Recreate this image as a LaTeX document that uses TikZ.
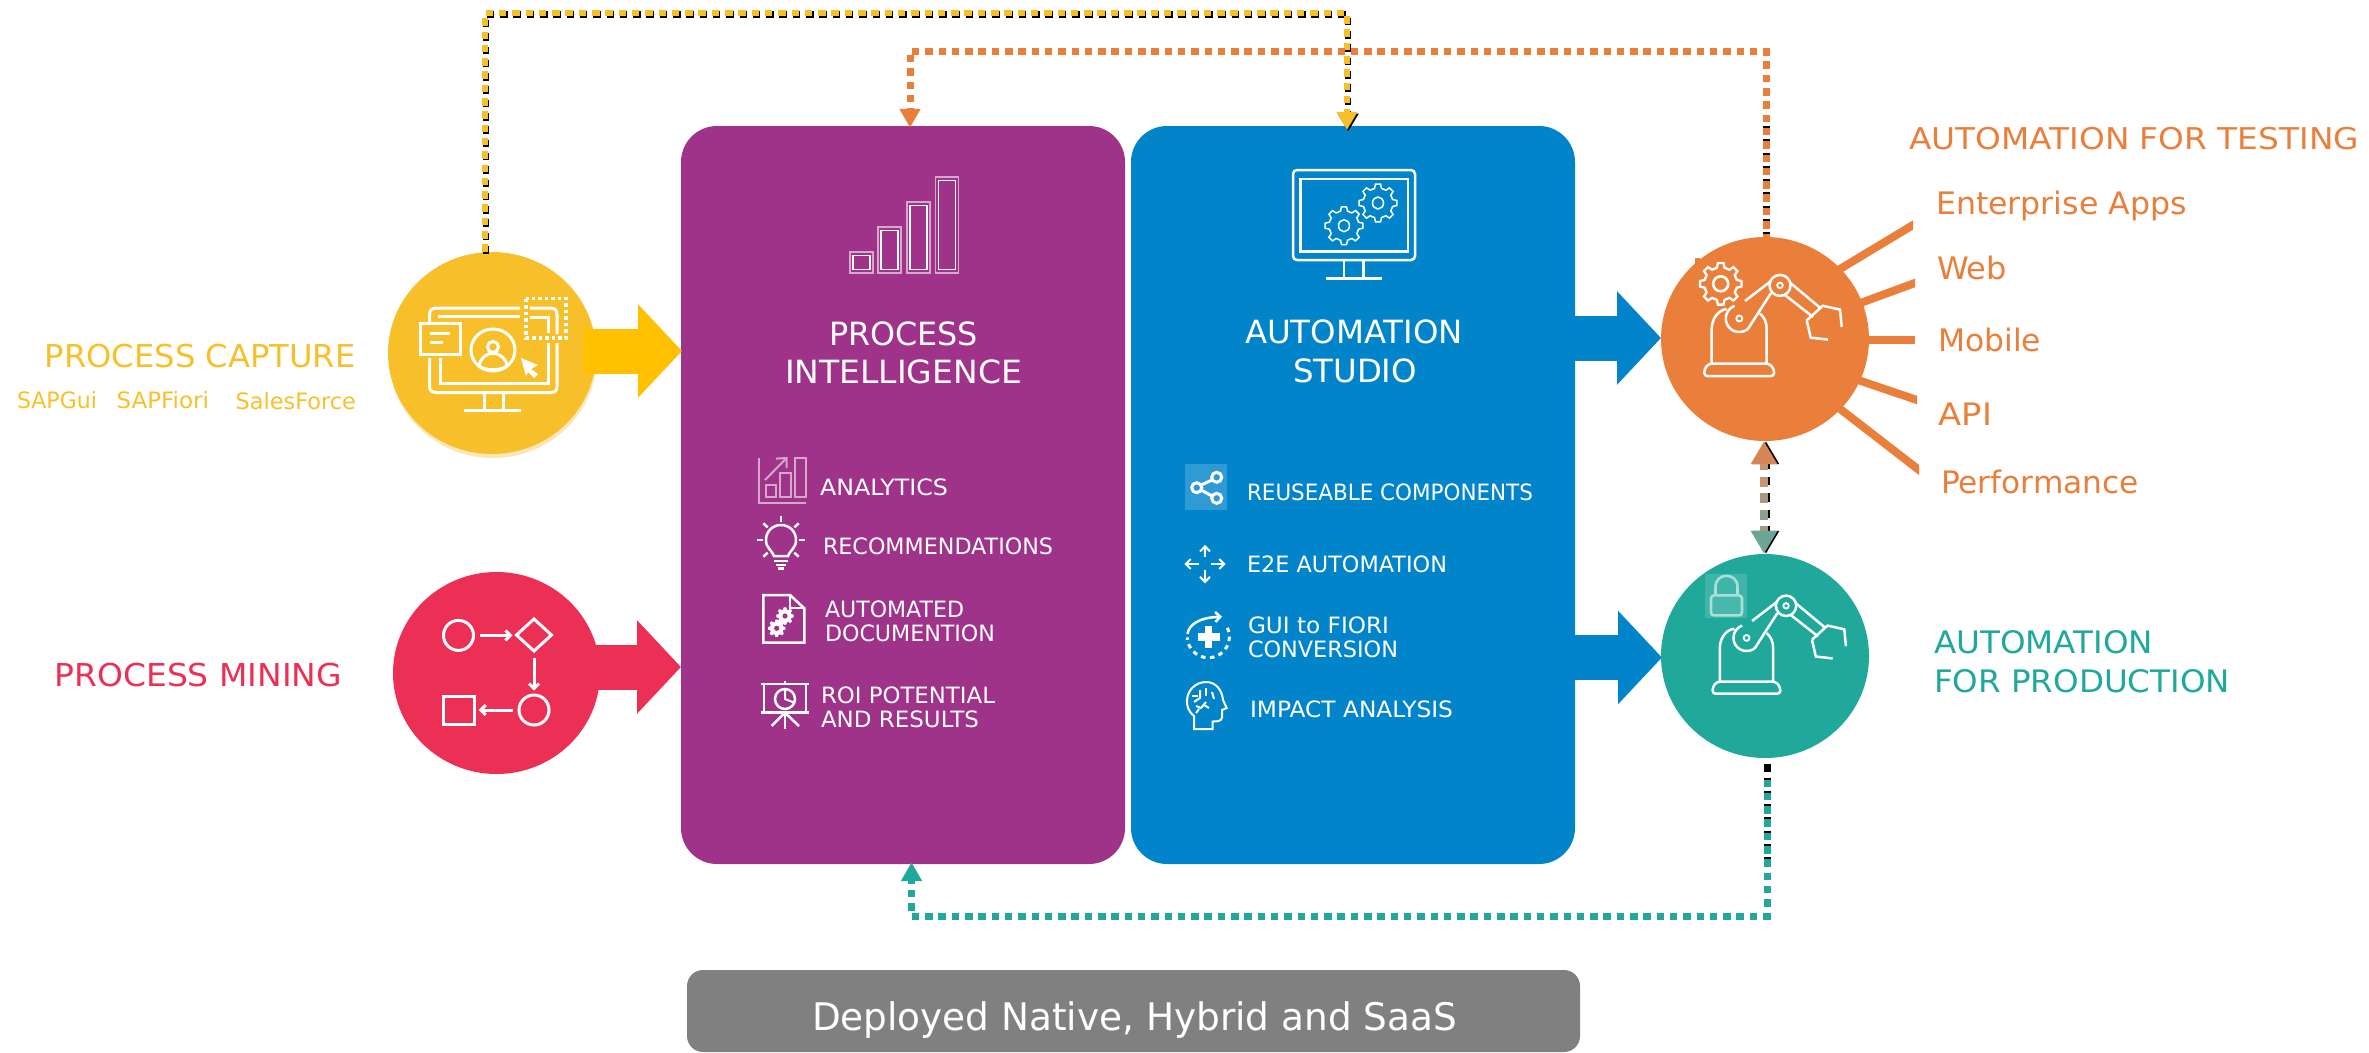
\documentclass[tikz,border=0pt]{standalone}
\usepackage{graphicx}
\usepackage{fontspec}
\setmainfont{DejaVu Sans}
\usetikzlibrary{arrows.meta,shapes.geometric}
\definecolor{cyel}{HTML}{F7C02B}
\definecolor{cyelb}{HTML}{FFC000}
\definecolor{cyels}{HTML}{F9E7B8}
\definecolor{cred}{HTML}{EC2F55}
\definecolor{cora}{HTML}{E97F3A}
\definecolor{cteal}{HTML}{20A99B}
\definecolor{cpur}{HTML}{9F338A}
\definecolor{cblu}{HTML}{0284CB}
\definecolor{cgry}{HTML}{808080}
\definecolor{cpale}{HTML}{D6A6CC}
\definecolor{grT}{HTML}{D88555}
\definecolor{grA}{HTML}{C89570}
\definecolor{grB}{HTML}{A89A80}
\definecolor{grC}{HTML}{8CA08F}
\definecolor{grD}{HTML}{6BA596}
\newcommand\fitx[3]{\resizebox{#1pt}{\height}{\fontsize{#2pt}{#2pt}\selectfont #3}}
% gear: options, cx, cy, outer R, root r, teeth
\newcommand\gearicon[6]{%
  \pgfmathsetmacro\gT{360/#6}%
  \pgfmathtruncatemacro\gN{#6-1}%
  \draw[#1] ({#2+#5*cos(-0.3*\gT)},{#3+#5*sin(-0.3*\gT)})
    \foreach \gi in {0,...,\gN} {
      -- ({#2+#5*cos((\gi-0.3)*\gT)},{#3+#5*sin((\gi-0.3)*\gT)})
      -- ({#2+#4*cos((\gi-0.17)*\gT)},{#3+#4*sin((\gi-0.17)*\gT)})
      -- ({#2+#4*cos((\gi+0.17)*\gT)},{#3+#4*sin((\gi+0.17)*\gT)})
      -- ({#2+#5*cos((\gi+0.3)*\gT)},{#3+#5*sin((\gi+0.3)*\gT)})
    } -- cycle;}
\newcommand\robotarm[3]{%
  \begin{scope}[shift={(#1,#2)},scale=#3,icon]
    \draw[rounded corners=3pt] (-60.7,37) -- (-60.7,30) -- (-56,24.5) -- (4,24.5) -- (9,30) -- (9,37) -- cycle;
    \draw (-53.3,24.5) -- (-53.3,-10) .. controls (-53.3,-20) and (-47,-29) .. (-38.3,-30);
    \draw (1.7,24.5) -- (1.7,-10) .. controls (1.7,-17) and (-1,-22) .. (-5,-25.5);
    \draw plot[domain=250:50,samples=24,smooth] ({-25.7+13.5*cos(\x)},{-20.5+13.5*sin(\x)}) -- (6,-46);
    \draw (-20,-38) -- (6,-58);
    \draw (15,-53.6) circle[radius=10.5];
    \draw[line width=1.8pt] (15,-53.6) circle[radius=2.8];
    \draw[line width=1.8pt] (-25.7,-20.5) circle[radius=3];
    \draw (25,-56.3) -- (55,-31.3);
    \draw (20,-44) -- (48,-22);
    \draw (41.7,-18.6) -- (57.7,-33.2) -- (75,-29.4) -- (76.7,-12);
    \draw (41.7,-18.6) -- (45.7,-1.3) -- (63,0.6);
  \end{scope}}
\tikzset{
  txt/.style={inner sep=0pt,outer sep=0pt,anchor=base west},
  panel/.style={draw=none,rounded corners=36pt,inner sep=0pt,minimum width=444pt,minimum height=738pt},
  disc/.style={ellipse,draw=none,inner sep=0pt,minimum width=208pt,minimum height=204pt},
  icon/.style={draw=white,line width=2.5pt,line cap=butt},
  block/.style={line width=45pt,-{Triangle[length=44pt,width=91pt]}},
  ray/.style={draw=cora,line width=8pt},
  dots/.style={line width=6.5pt,dash pattern=on 7.5pt off 5.8pt},
  tipA/.style={-{Triangle[length=18pt,width=20pt]}},
  tipB/.style={-{Triangle[length=19pt,width=20pt]}},
  small arrow/.style={-{Straight Barb[length=5pt,width=10pt]}},
}
\begin{document}
\begin{tikzpicture}[x=1pt,y=-1pt]
\useasboundingbox (0,0) rectangle (2369,1052);
% ---------- main nodes
\node[panel,fill=cpur] (pi) at (903,495) {};
\node[panel,fill=cblu] (as) at (1353,495) {};
\node[draw=none,fill=cgry,rounded corners=16pt,inner sep=0pt,minimum width=893pt,minimum height=82pt] (dep) at (1133.5,1011) {};
% coordinates used by routes
\coordinate (lane1) at (800,13);
\coordinate (lane2) at (1300,51);
\coordinate (lane3) at (1300,916);
\coordinate (r1a) at (1835,272); \coordinate (r1b) at (1913,225);
\coordinate (r2a) at (1855,305); \coordinate (r2b) at (1915,283);
\coordinate (r3a) at (1860,340); \coordinate (r3b) at (1915,340);
\coordinate (r4a) at (1855,379); \coordinate (r4b) at (1917,400);
\coordinate (r5a) at (1835,405); \coordinate (r5b) at (1919,470);
\begin{scope}
\clip (1800,200) rectangle (1913,290);
\draw[ray] (r1a) -- ([shift={(10,-6)}]r1b);
\end{scope}
\begin{scope}
\clip (1800,265) rectangle (1915,320);
\draw[ray] (r2a) -- ([shift={(10,-3.7)}]r2b);
\end{scope}
\draw[ray] (r3a) -- (r3b);
\begin{scope}
\clip (1800,365) rectangle (1917,420);
\draw[ray] (r4a) -- ([shift={(10,3.4)}]r4b);
\end{scope}
\begin{scope}
\clip (1800,395) rectangle (1919,490);
\draw[ray] (r5a) -- ([shift={(10,7.7)}]r5b);
\end{scope}
% block arrows (under the discs where they enter them)
\coordinate (bA1) at (1570,338); \coordinate (bA2) at (1661,338);
\coordinate (bB1) at (1570,657.5); \coordinate (bB2) at (1662,657.5);
\draw[block,draw=cblu] (bA1) -- (bA2);
\draw[block,draw=cblu] (bB1) -- (bB2);
% discs
\fill[cyels] (493,356.5) ellipse[x radius=104,y radius=101.5];
\node[disc,fill=cyel,minimum height=202pt] (yc) at (492,353) {};
\node[disc,fill=cred,minimum width=207pt,minimum height=202pt] (rc) at (496.5,673) {};
\node[disc,fill=cora] (oc) at (1765,339) {};
\node[disc,fill=cteal] (tc) at (1765,656) {};
\fill[cora] (1695,258) rectangle (1700,264);
\coordinate (yb1) at (583,351); \coordinate (yb2) at (682,351);
\coordinate (rb1) at (590,667); \coordinate (rb2) at (681,667);
\draw[block,draw=cyelb] (yb1) -- (yb2);
\draw[block,draw=cred] (rb1) -- (rb2);
% ---------- dotted connectors
\begin{scope}[transform canvas={shift={(1.2pt,-1.7pt)}}]
\draw[dots,draw=black,tipA] ([xshift=-7pt]yc.north) |- (lane1) -| ([xshift=-6pt,yshift=-4pt]as.north);
\end{scope}
\draw[dots,draw=cyel,tipA] ([xshift=-7pt]yc.north) |- (lane1) -| ([xshift=-6pt,yshift=-4pt]as.north);
\coordinate (oBlackEnd) at (1766,123);
\draw[dots,draw=black,line width=7pt] ([xshift=1pt,yshift=-3pt]oc.north) -- (oBlackEnd);
\draw[dots,draw=cora,line width=7pt,tipB] ([xshift=1pt,yshift=-5pt]oc.north) |- (lane2) -| ([xshift=7pt,yshift=-2pt]pi.north);
\coordinate (tBlackEnd) at (1767,862);
\draw[dots,draw=black,line width=7pt] ([xshift=2pt,yshift=-6pt]tc.south) -- (tBlackEnd);
\draw[dots,draw=cteal,line width=7pt,tipB] ([xshift=2pt,yshift=-21.3pt]tc.south) |- (lane3) -| ([xshift=8.5pt,yshift=2pt]pi.south);
% two-way link
\begin{scope}[transform canvas={shift={(2pt,0pt)}}]
\draw[draw=black,line width=8.5pt,dash pattern=on 8.5pt off 8pt,dash phase=2.5pt,{Triangle[length=23pt,width=25pt]}-{Triangle[length=23pt,width=25pt]}] ([xshift=-1pt]oc.south) -- ([xshift=-1pt]tc.north);
\end{scope}
\draw[draw=grB,line width=8.5pt,dash pattern=on 8.5pt off 8pt,dash phase=2.5pt,
  {Triangle[length=23pt,width=25pt,color=grT]}-{Triangle[length=23pt,width=25pt,color=grD]}] ([xshift=-1pt]oc.south) -- ([xshift=-1pt]tc.north);
\fill[grA] (1759.75,464) rectangle (1768.25,470);
\fill[grA] (1759.75,478) rectangle (1768.25,486.5);
\fill[grB] (1759.75,494.5) rectangle (1768.25,503);
\fill[grC] (1759.75,511) rectangle (1768.25,519.5);
% ---------- labels, left
\node[txt,text=cyel] (tCap) at (44.6,367) {\fitx{311}{31.5}{PROCESS CAPTURE}};
\node[txt,text=cyel] (tSg) at (17,408) {\fitx{80}{22.6}{SAPGui}};
\node[txt,text=cyel] (tSf) at (116.5,408) {\fitx{92.5}{22.6}{SAPFiori}};
\node[txt,text=cyel] (tSa) at (235.7,409) {\fitx{120.3}{22.6}{SalesForce}};
\node[txt,text=cred] (tMin) at (54.5,686) {\fitx{287.5}{31.5}{PROCESS MINING}};
% ---------- panel titles
\node[txt,text=white] (t1) at (829,345) {\fitx{149}{32}{PROCESS}};
\node[txt,text=white] (t2) at (785,383) {\fitx{237}{32}{INTELLIGENCE}};
\node[txt,text=white] (t3) at (1245,343) {\fitx{218}{32}{AUTOMATION}};
\node[txt,text=white] (t4) at (1293,382) {\fitx{124}{32}{STUDIO}};
% ---------- panel items
\node[txt,text=white] (i1) at (820,495) {\fitx{128}{22.5}{ANALYTICS}};
\node[txt,text=white] (i2) at (823,554) {\fitx{230}{22.5}{RECOMMENDATIONS}};
\node[txt,text=white] (i3) at (825,617) {\fitx{139}{22.5}{AUTOMATED}};
\node[txt,text=white] (i4) at (825,641) {\fitx{170}{22.5}{DOCUMENTION}};
\node[txt,text=white] (i5) at (821,703) {\fitx{174}{22.5}{ROI POTENTIAL}};
\node[txt,text=white] (i6) at (821,727) {\fitx{158}{22.5}{AND RESULTS}};
\node[txt,text=white] (j1) at (1247,500) {\fitx{286}{22.5}{REUSEABLE COMPONENTS}};
\node[txt,text=white] (j2) at (1247,572) {\fitx{200}{22.5}{E2E AUTOMATION}};
\node[txt,text=white] (j3) at (1248,633) {\fitx{141}{22.5}{GUI to FIORI}};
\node[txt,text=white] (j4) at (1248,657) {\fitx{150}{22.5}{CONVERSION}};
\node[txt,text=white] (j5) at (1250,717) {\fitx{203}{22.5}{IMPACT ANALYSIS}};
% ---------- labels, right
\node[txt,text=cora] (r0) at (1909,149) {\fitx{450}{30}{AUTOMATION FOR TESTING}};
\node[txt,text=cora] (r1) at (1936,214) {\fitx{251}{31}{Enterprise Apps}};
\node[txt,text=cora] (r2) at (1937,279) {\fitx{70}{31}{Web}};
\node[txt,text=cora] (r3) at (1938,351) {\fitx{103}{31}{Mobile}};
\node[txt,text=cora] (r4) at (1938.5,425) {\fitx{53.5}{31}{API}};
\node[txt,text=cora] (r5) at (1941,493) {\fitx{198}{31}{Performance}};
\node[txt,text=cteal] (p1) at (1934,653) {\fitx{219}{31}{AUTOMATION}};
\node[txt,text=cteal] (p2) at (1934,692) {\fitx{296}{31}{FOR PRODUCTION}};
\node[txt,text=white] (dtx) at (812,1030) {\fitx{645}{38}{Deployed Native, Hybrid and SaaS}};
% ---------- icon: capture monitor
\begin{scope}[icon,line width=3pt]
\draw (520,308) -- (437,308) .. controls (432,308) and (429.5,310) .. (429.5,315) -- (429.5,323);
\draw (438,316) -- (520,316);
\draw (429.5,358) -- (429.5,386) .. controls (429.5,391) and (432,392.5) .. (437,392.5) -- (550,392.5) .. controls (555,392.5) and (557,391) .. (557,386) -- (557,343);
\draw (440,358) -- (440,383) -- (548,383) -- (548,343);
\draw (530,308) -- (550,308) .. controls (555,308) and (557,310) .. (557,315) -- (557,334);
\draw (530,317) -- (548,317) -- (548,333);
\draw[line width=3.5pt,dash pattern=on 3.5pt off 3pt] (526,298.6) rectangle (566,338);
\draw (420.5,323.6) rectangle (460,354);
\draw (430,333.5) -- (449.5,333.5);
\draw (430,342.5) -- (443,342.5);
\draw (493,350) ellipse[x radius=22,y radius=21];
\draw (493,347) circle[radius=5.5];
\draw (479,366) .. controls (481,357) and (486,355) .. (490,353.5) -- (496,353.5) .. controls (500,355) and (506,358) .. (507,366);
\draw (479,366) .. controls (486,371) and (500,371) .. (507,366);
\draw (484,392.5) -- (484,410);
\draw (503,392.5) -- (503,410);
\draw (464,410) -- (521,410);
\end{scope}
\fill[white] (521,358) -- (538,365) -- (531,369) -- (538,374) -- (534,378) -- (528,372) -- (526,376) -- cycle;
% ---------- icon: process flow
\begin{scope}[icon,line width=3pt]
\draw (458.5,635.4) ellipse[x radius=15,y radius=15];
\draw[small arrow] (480,635.4) -- (512.5,635.4);
\draw (534,619) -- (551.5,635) -- (534,651) -- (516.5,635) -- cycle;
\draw[small arrow] (534,657.5) -- (534,690.7);
\draw (534,710) ellipse[x radius=15,y radius=15];
\draw[small arrow] (512.5,710) -- (478.6,710);
\draw (443,696) rectangle (474,724.6);
\end{scope}
% ---------- icon: bars
\foreach \bx/\bt in {850/252,878/227,907/202,935.5/177} {
  \draw[draw=cpale,line width=1.6pt] (\bx,\bt) rectangle (\bx+23,272.7);
  \draw[draw=white,line width=1.4pt] (\bx+3,\bt+3.5) rectangle (\bx+20,269.5);
}
% ---------- icon: studio monitor
\begin{scope}[icon]
\draw[rounded corners=4pt] (1293,170) rectangle (1415,260);
\draw (1300.5,179) rectangle (1408,251.7);
\draw (1344,260) -- (1344,278.5);
\draw (1363.5,260) -- (1363.5,278.5);
\draw (1326,278.5) -- (1382,278.5);
\end{scope}
\gearicon{draw=white,line width=1.5pt}{1344}{225.7}{19}{15}{8}
\draw[white,line width=1.5pt] (1344,225.7) ellipse[x radius=5.5,y radius=6];
\gearicon{draw=white,line width=1.5pt}{1378}{203}{19}{15}{8}
\draw[white,line width=1.5pt] (1378,203) ellipse[x radius=5.5,y radius=6];
% ---------- icon: analytics
\begin{scope}[line width=2pt]
\draw[cpale] (759.3,458) -- (759.3,502.7) -- (806,502.7);
\draw[cpale] (765.7,485) rectangle (776,496.7);
\draw[cpale] (780,472.7) rectangle (790.7,496.7);
\draw[cpale] (795,458.3) rectangle (806,496.7);
\draw[cpale] (765,480) -- (786,458.6);
\draw[cpale] (776,458.6) -- (786.7,458) -- (786.7,468);
\end{scope}
% ---------- icon: bulb
\begin{scope}[icon]
\draw (774,556) .. controls (771,549) and (766,548) .. (766,540) .. controls (766,531) and (773,525) .. (781,525) .. controls (789,525) and (796,531) .. (796,540) .. controls (796,548) and (791,549) .. (788,556) -- cycle;
\draw (781,515.7) -- (781,521.7);
\draw (756.7,540) -- (762.7,540);
\draw (799.3,540) -- (805.3,540);
\draw (763.3,523.3) -- (767.7,527.3);
\draw (798.7,523.3) -- (794.3,527.3);
\draw (763.3,556.7) -- (767.7,552.7);
\draw (798.7,556.7) -- (794.3,552.7);
\draw (774,561) -- (788,561);
\draw (776,565) -- (786,565);
\draw (778,568.5) -- (784,568.5);
\end{scope}
% ---------- icon: document
\begin{scope}[icon]
\draw (763.3,595) -- (790,595) -- (804.3,608.3) -- (804.3,642.7) -- (763.3,642.7) -- cycle;
\draw[line width=1.8pt] (790,595) -- (790,608.3) -- (804.3,608.3);
\end{scope}
\gearicon{fill=white,draw=white,line width=.5pt}{785}{616}{8.5}{6.5}{8}
\fill[cpur] (785,616) circle[radius=2.6];
\gearicon{fill=white,draw=white,line width=.5pt}{776.7}{628.3}{8.5}{6.5}{8}
\fill[cpur] (776.7,628.3) circle[radius=2.6];
% ---------- icon: presentation
\begin{scope}[icon]
\draw (785,680.7) -- (785,684);
\draw (761,684) -- (809.3,684);
\draw (764,684) -- (764,712.7);
\draw (806,684) -- (806,712.7);
\draw (761,712.7) -- (809.3,712.7);
\draw (785,699) circle[radius=10];
\draw[line width=2pt] (785,689) -- (785,699) -- (795,703);
\draw (785,712.7) -- (785,729);
\draw (785,712.7) -- (771.7,726);
\draw (785,712.7) -- (799,726);
\end{scope}
% ---------- icon: share
\fill[white!18!cblu] (1185,464) rectangle (1227,510);
\begin{scope}[icon,line width=3pt]
\draw (1216.7,477.3) circle[radius=5];
\draw (1196.7,487.7) circle[radius=5];
\draw (1216.7,498.3) circle[radius=5];
\draw (1201,485) -- (1212,480);
\draw (1201,490) -- (1212,496);
\end{scope}
% ---------- icon: four arrows
\begin{scope}[icon,line width=2pt]
\draw[small arrow] (1199,564) -- (1184.3,564);
\draw[small arrow] (1211,564) -- (1225.7,564);
\draw[small arrow] (1205,557.3) -- (1205,545);
\draw[small arrow] (1205,570) -- (1205,583.3);
\end{scope}
% ---------- icon: gui to fiori
\begin{scope}[icon]
\draw[dash pattern=on 4.5pt off 4.5pt,line width=3pt] plot[domain=-25:178,samples=40,smooth] ({1208.3+21*cos(\x)},{636.7+21*sin(\x)});
\draw[small arrow] (1187.5,634) .. controls (1189,624) and (1200,617.5) .. (1222,616.7);
\end{scope}
\fill[white] (1204.5,626) rectangle (1212,648);
\fill[white] (1197.5,633) rectangle (1219.5,640.5);
% ---------- icon: head
\begin{scope}[icon,line width=2pt]
\draw (1194,729) -- (1194,716) .. controls (1188,711) and (1187,706) .. (1187,701) .. controls (1187,690) and (1196,682) .. (1206,682) .. controls (1216,682) and (1222,690) .. (1223,700) -- (1226.7,708) -- (1222,710) -- (1222,717) .. controls (1222,721) and (1218,721.5) .. (1212.7,721.5) -- (1212.7,729) -- cycle;
\draw (1200,690) -- (1200,698) -- (1194,702);
\draw (1206,688) -- (1206,696);
\draw (1212,692) -- (1214,699);
\draw (1192,696) -- (1198,696);
\draw (1206,702) -- (1201,708) -- (1196,706);
\draw (1204,705) -- (1209,708);
\draw (1199,709) -- (1196,713);
\end{scope}
% ---------- icons: robots, gear, lock
\robotarm{1765}{339}{1}
\robotarm{1771.5}{657.8}{0.97}
\gearicon{draw=white,line width=2.3pt}{1720.7}{283.8}{21}{16.5}{8}
\draw[white,line width=2.6pt] (1720.7,283.8) circle[radius=7.5];
\fill[white!14!cteal] (1705,574) rectangle (1747,618);
\draw[draw=white!62!cteal,fill=white!18!cteal,line width=2.6pt,rounded corners=3pt] (1711,595.4) rectangle (1742,615.4);
\draw[draw=white!62!cteal,line width=2.6pt] (1715.5,595) -- (1715.5,587) .. controls (1715.5,572) and (1737.5,572) .. (1737.5,587) -- (1737.5,595);
\end{tikzpicture}
\end{document}
